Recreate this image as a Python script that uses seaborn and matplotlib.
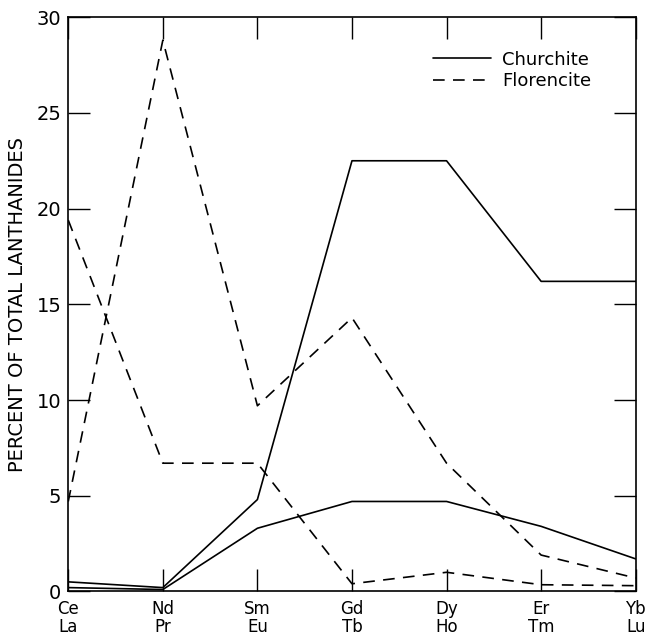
import pandas as pd
import matplotlib
import matplotlib.pyplot as plt
import seaborn as sns

matplotlib.use('Agg')

# elementos (par superior / inferior em cada posição)
elementos_sup = ['Ce', 'Nd', 'Sm', 'Gd', 'Dy', 'Er', 'Yb']
elementos_inf = ['La', 'Pr', 'Eu', 'Tb', 'Ho', 'Tm', 'Lu']

# valores (% do total de lantanídeos)
churchite_a = [0.5, 0.2, 4.8, 22.5, 22.5, 16.2, 16.2]
churchite_b = [0.2, 0.1, 3.3, 4.7, 4.7, 3.4, 1.7]
florencite_a = [4.7, 28.8, 9.7, 14.3, 6.7, 1.9, 0.7]
florencite_b = [19.4, 6.7, 6.7, 0.4, 1.0, 0.35, 0.3]

series = {
    ('Churchite', 'a'): churchite_a,
    ('Churchite', 'b'): churchite_b,
    ('Florencite', 'a'): florencite_a,
    ('Florencite', 'b'): florencite_b,
}

linhas = []
for (mineral, curva), valores in series.items():
    for pos, v in enumerate(valores):
        linhas.append({'pos': pos, 'valor': v, 'Mineral': mineral,
                       'curva': mineral + curva})
df = pd.DataFrame(linhas)

sns.set_style('ticks')
plt.rcParams['font.family'] = ['DejaVu Sans']
plt.rcParams['text.color'] = 'black'
plt.rcParams['xtick.color'] = 'black'
plt.rcParams['ytick.color'] = 'black'
plt.rcParams['axes.labelcolor'] = 'black'

fig, ax = plt.subplots(figsize=(6.5, 6.38), dpi=100)
sns.lineplot(data=df, x='pos', y='valor', style='Mineral', units='curva',
             estimator=None, color='black', linewidth=1.2,
             dashes={'Churchite': '', 'Florencite': (7, 5)}, ax=ax)

ax.set_xlim(0, 6)
ax.set_ylim(0, 30)
ax.set_yticks(range(0, 31, 5))
ax.set_xticks(range(len(elementos_sup)))
ax.set_xticklabels([f'{s}\n{i}' for s, i in zip(elementos_sup, elementos_inf)],
                   fontsize=12, linespacing=1.05)
ax.tick_params(axis='y', labelsize=14, pad=5)
ax.tick_params(axis='x', pad=6)
ax.tick_params(direction='in', length=16, width=1.0, top=True, right=True)
ax.set_xlabel('')
ax.set_ylabel('PERCENT OF TOTAL LANTHANIDES', fontsize=14, labelpad=7)
for s in ax.spines.values():
    s.set_linewidth(1.2)
    s.set_color('black')

leg = ax.legend(loc='upper right', bbox_to_anchor=(0.95, 0.97), frameon=False,
                fontsize=13, handlelength=3.2, handletextpad=0.6,
                labelspacing=0.2)

plt.subplots_adjust(left=0.105, right=0.978, top=0.973, bottom=0.073)
plt.savefig('out.png', dpi=100)
plt.close()
